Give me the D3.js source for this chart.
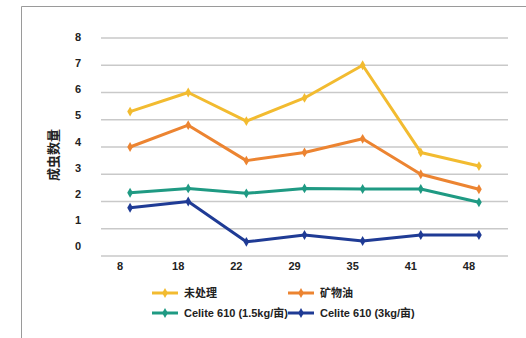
<!DOCTYPE html>
<html>
<head>
<meta charset="utf-8">
<script src="https://cdn.jsdelivr.net/npm/d3@7/dist/d3.min.js"></script>
<style>
  html, body { margin: 0; padding: 0; background: #fff; }
  svg { display: block; }
  text { font-family: "Liberation Sans", Arial, "Noto Sans CJK SC", sans-serif; font-weight: bold; fill: #222; }
</style>
</head>
<body>
<svg id="chart" width="526" height="338"></svg>
<script>
// Sampling days along the x axis
const days = ["8", "18", "22", "29", "35", "41", "48"];
// Y tick labels
const yTicks = [0, 1, 2, 3, 4, 5, 6, 7, 8];

// Adult counts per treatment
const untreated   = [5.3, 6.0, 4.95, 5.8, 7.0, 3.8, 3.3];
const mineralOil  = [4.0, 4.8, 3.5, 3.8, 4.3, 3.0, 2.45];
const celiteLow   = [2.32, 2.48, 2.3, 2.48, 2.46, 2.46, 1.97];
const celiteHigh  = [1.77, 2.0, 0.52, 0.77, 0.55, 0.77, 0.77];

const seriesNames  = ["未处理", "矿物油", "Celite 610 (1.5kg/亩)", "Celite 610 (3kg/亩)"];
const seriesColors = ["#F2BB30", "#EC8431", "#1F9A83", "#1F3B95"];
const seriesValues = [untreated, mineralOil, celiteLow, celiteHigh];

const svg = d3.select("#chart");

// outer frame (top and left edges)
svg.append("path")
  .attr("d", "M21.5,338 V6.5 H526")
  .attr("fill", "none")
  .attr("stroke", "#9a9a9a")
  .attr("stroke-width", 1);

// plotting scales
const x = d3.scaleBand().domain(days).range([101, 508]);
const y = d3.scaleLinear().domain([0, 8]).range([256, 38]);

// label scales (tick text sits slightly off the gridlines)
const xLabel = d3.scaleBand().domain(days).range([91, 498]);
const yLabel = d3.scaleLinear().domain([0, 8]).range([246, 37]);

// horizontal gridlines
svg.append("g")
  .selectAll("line")
  .data(yTicks)
  .join("line")
  .attr("x1", 101).attr("x2", 508)
  .attr("y1", d => y(d)).attr("y2", d => y(d))
  .attr("stroke", "#c9c9c9")
  .attr("stroke-width", 1.5);

// y axis labels
const yAxis = svg.append("g")
  .attr("transform", "translate(84,0)")
  .call(d3.axisLeft(yLabel).tickValues(yTicks).tickSize(0).tickPadding(0).tickFormat(d3.format("d")));
yAxis.select(".domain").remove();
yAxis.selectAll("text")
  .attr("font-size", 11)
  .attr("text-anchor", "middle")
  .attr("x", -6)
  .style("font-family", "'Liberation Sans', Arial, sans-serif")
  .style("font-weight", "bold")
  .attr("fill", "#222");

// x axis labels
const xAxis = svg.append("g")
  .attr("transform", "translate(0,262)")
  .call(d3.axisBottom(xLabel).tickSize(0).tickPadding(0));
xAxis.select(".domain").remove();
xAxis.selectAll("text")
  .attr("font-size", 11)
  .attr("dy", "0.71em")
  .style("font-family", "'Liberation Sans', Arial, sans-serif")
  .style("font-weight", "bold")
  .attr("fill", "#222");

// y axis title
svg.append("text")
  .attr("transform", "translate(52,155) rotate(-90)")
  .attr("text-anchor", "middle")
  .attr("dominant-baseline", "central")
  .attr("font-size", 13)
  .style("font-family", "'Noto Sans CJK SC', sans-serif")
  .style("font-weight", "bold")
  .text("成虫数量");

// lines with markers
const line = d3.line()
  .x((d, i) => x(days[i]) + x.bandwidth() / 2)
  .y(d => y(d));

const marker = d3.symbol().type(d3.symbolDiamond).size(28);

seriesValues.forEach((vals, s) => {
  const g = svg.append("g");
  g.append("path")
    .datum(vals)
    .attr("d", line)
    .attr("fill", "none")
    .attr("stroke", seriesColors[s])
    .attr("stroke-width", 3)
    .attr("stroke-linejoin", "round");
  g.selectAll("path.pt")
    .data(vals)
    .join("path")
    .attr("class", "pt")
    .attr("d", marker)
    .attr("transform", (d, i) => `translate(${x(days[i]) + x.bandwidth() / 2},${y(d)})`)
    .attr("fill", seriesColors[s]);
});

// legend
const legendPos = [[152, 293], [288, 293], [152, 313], [288, 313]];
const legend = svg.append("g");
seriesNames.forEach((name, s) => {
  const [lx, ly] = legendPos[s];
  const item = legend.append("g").attr("transform", `translate(${lx},${ly})`);
  item.append("line")
    .attr("x1", 0).attr("x2", 26)
    .attr("y1", 0).attr("y2", 0)
    .attr("stroke", seriesColors[s])
    .attr("stroke-width", 3);
  item.append("path")
    .attr("d", marker)
    .attr("transform", "translate(13,0)")
    .attr("fill", seriesColors[s]);
  item.append("text")
    .attr("x", 32)
    .attr("y", 0)
    .attr("dominant-baseline", "central")
    .attr("font-size", 11)
    .style("font-family", "'Liberation Sans', Arial, 'Noto Sans CJK SC', sans-serif")
    .style("font-weight", "bold")
    .text(name);
});
</script>
</body>
</html>
